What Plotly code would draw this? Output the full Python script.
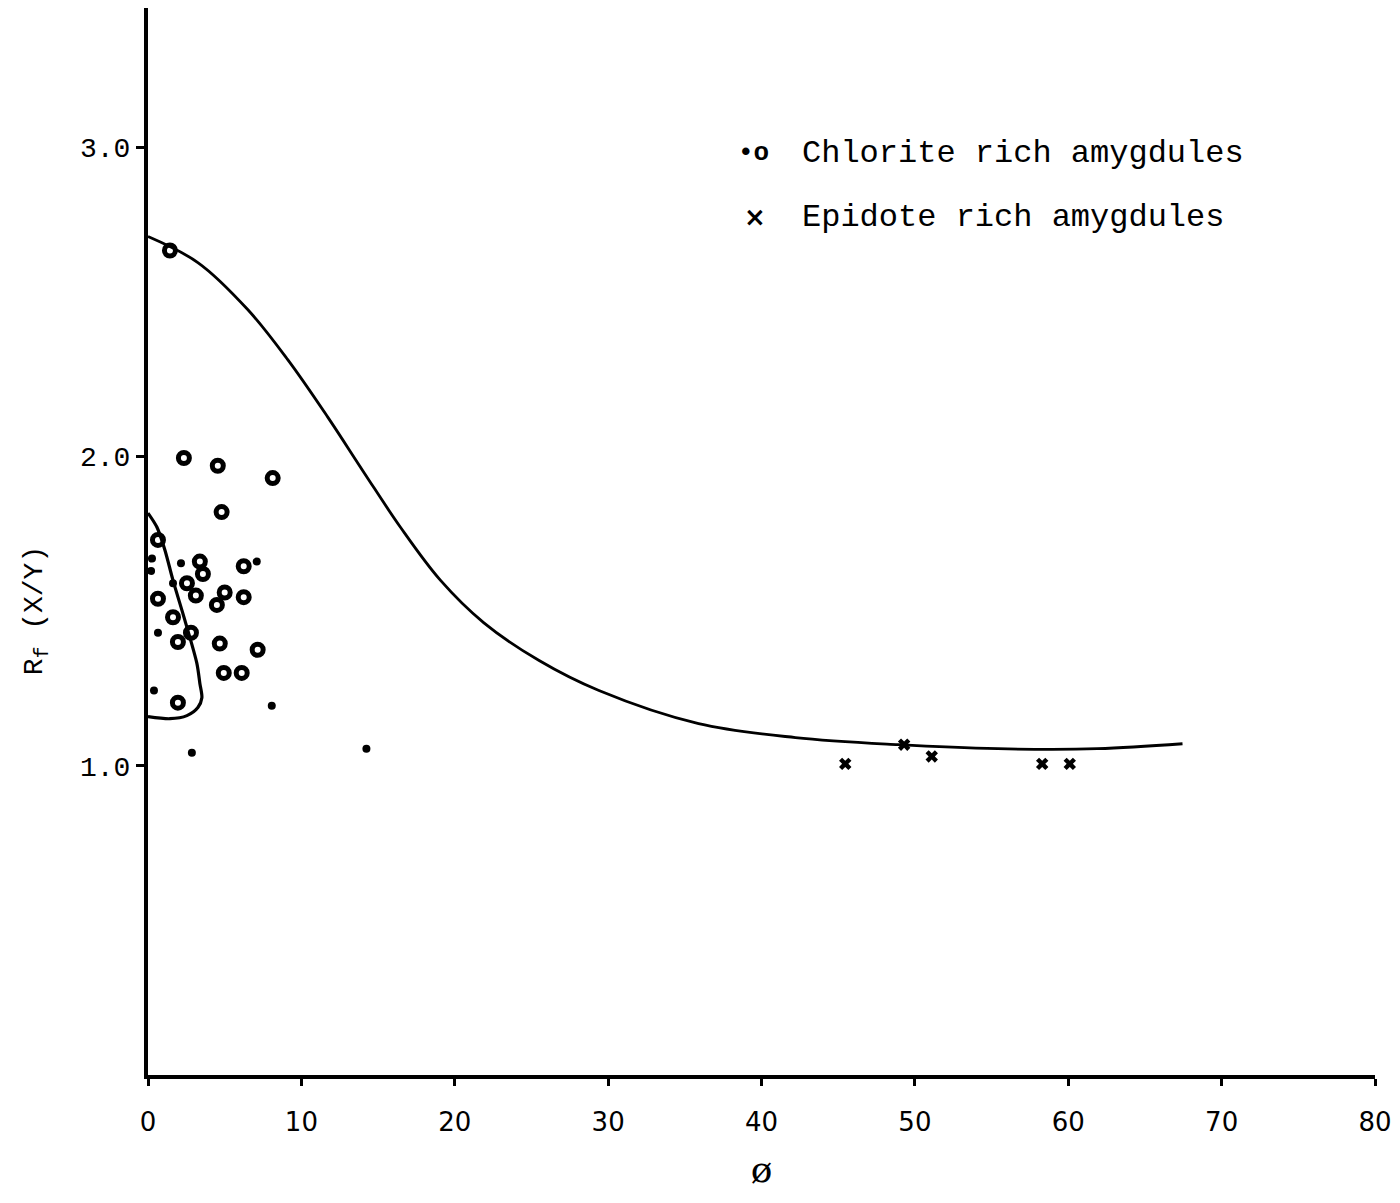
import plotly.graph_objects as go

# Chlorite rich amygdules - open ring symbols
ring_x = [1.43, 2.34, 4.55, 8.13, 4.8, 0.65, 3.38, 3.58, 6.24, 2.54, 5.0, 3.12, 6.24, 0.65, 4.49, 1.63, 2.8, 1.95, 4.68, 7.15, 4.94, 6.11, 1.95]
ring_y = [2.666, 1.995, 1.97, 1.93, 1.82, 1.73, 1.66, 1.62, 1.645, 1.59, 1.56, 1.55, 1.545, 1.54, 1.52, 1.48, 1.43, 1.40, 1.395, 1.375, 1.30, 1.30, 1.204]

# Chlorite rich amygdules - small dots
dot_x = [0.26, 0.2, 2.15, 7.09, 1.63, 0.65, 0.39, 8.07, 2.86, 14.24]
dot_y = [1.67, 1.63, 1.655, 1.66, 1.59, 1.43, 1.243, 1.194, 1.042, 1.055]

# Epidote rich amygdules
epi_x = [45.46, 49.3, 51.1, 58.3, 60.1]
epi_y = [1.006, 1.068, 1.03, 1.006, 1.006]

# Hand-drawn trend curve
curve_x = [0, 3.25, 6.50, 9.11, 11.71, 14.11, 16.46, 19.06, 21.9, 25.50, 29.40, 35.90, 42.21, 48.9, 55.4, 61.9, 67.45]
curve_y = [2.711, 2.627, 2.475, 2.313, 2.128, 1.946, 1.771, 1.600, 1.462, 1.340, 1.243, 1.136, 1.091, 1.068, 1.055, 1.055, 1.071]

# Envelope around low-phi chlorite points
env_x = [0, 0.585, 1.106, 1.626, 2.407, 3.187, 3.382, 3.512, 3.252, 2.537, 1.431, 0]
env_y = [1.817, 1.771, 1.697, 1.600, 1.470, 1.331, 1.266, 1.220, 1.188, 1.162, 1.152, 1.159]

x_ticks = [0, 10, 20, 30, 40, 50, 60, 70, 80]
y_ticks = [1.0, 2.0, 3.0]
y_tick_text = ["1.0", "2.0", "3.0"]

fig = go.Figure()
fig.add_trace(go.Scatter(x=curve_x, y=curve_y, mode="lines", line=dict(color="black", width=2.8, shape="spline", smoothing=1.0), showlegend=False, hoverinfo="skip"))
fig.add_trace(go.Scatter(x=env_x, y=env_y, mode="lines", line=dict(color="black", width=3.2, shape="spline", smoothing=0.8), showlegend=False, hoverinfo="skip"))
fig.add_trace(go.Scatter(x=ring_x, y=ring_y, mode="markers", marker=dict(symbol="circle-open", size=11, color="black", line=dict(width=5, color="black")), showlegend=False))
fig.add_trace(go.Scatter(x=dot_x, y=dot_y, mode="markers", marker=dict(symbol="circle", size=8, color="black"), showlegend=False))
fig.add_trace(go.Scatter(x=epi_x, y=epi_y, mode="markers", marker=dict(symbol="x", size=11, color="black", line=dict(width=0)), showlegend=False))

mono = "Liberation Mono"
fig.update_layout(
    width=1400, height=1203,
    margin=dict(l=148, r=22, t=8, b=128),
    plot_bgcolor="white", paper_bgcolor="white",
    showlegend=False,
    xaxis=dict(range=[0, 80], tickvals=x_ticks, ticktext=[str(v) for v in x_ticks],
               showgrid=False, zeroline=False, showline=True, linecolor="black", linewidth=4,
               ticks="outside", ticklen=7, tickwidth=3, tickcolor="black", ticklabelstandoff=14,
               tickfont=dict(family="DejaVu Sans", size=26, color="black"),
               title=dict(text="ø", font=dict(family="DejaVu Serif", size=36, color="black"), standoff=22)),
    yaxis=dict(range=[0, 3.45], tickvals=y_ticks, ticktext=y_tick_text,
               showgrid=False, zeroline=False, showline=True, linecolor="black", linewidth=4,
               ticks="outside", ticklen=8, tickwidth=3, tickcolor="black",
               tickfont=dict(family=mono, size=28, color="black")),
)

fig.add_annotation(xref="paper", yref="paper", x=-0.0902, y=0.435, text="R<sub>f</sub> (X/Y)", showarrow=False,
                   textangle=-90, font=dict(family=mono, size=28, color="black"), xanchor="center", yanchor="middle")
fig.add_annotation(xref="paper", yref="paper", x=0.4935, y=0.864, text="<b>•o</b>", showarrow=False,
                   font=dict(family=mono, size=26, color="black"), xanchor="center", yanchor="middle")
fig.add_annotation(xref="paper", yref="paper", x=0.531, y=0.864, text="Chlorite rich amygdules", showarrow=False,
                   font=dict(family=mono, size=32, color="black"), xanchor="left", yanchor="middle")
fig.add_annotation(xref="paper", yref="paper", x=0.4945, y=0.804, text="<b>×</b>", showarrow=False,
                   font=dict(family="DejaVu Sans", size=26, color="black"), xanchor="center", yanchor="middle")
fig.add_annotation(xref="paper", yref="paper", x=0.531, y=0.804, text="Epidote rich amygdules", showarrow=False,
                   font=dict(family=mono, size=32, color="black"), xanchor="left", yanchor="middle")

fig.write_html("out.html")
